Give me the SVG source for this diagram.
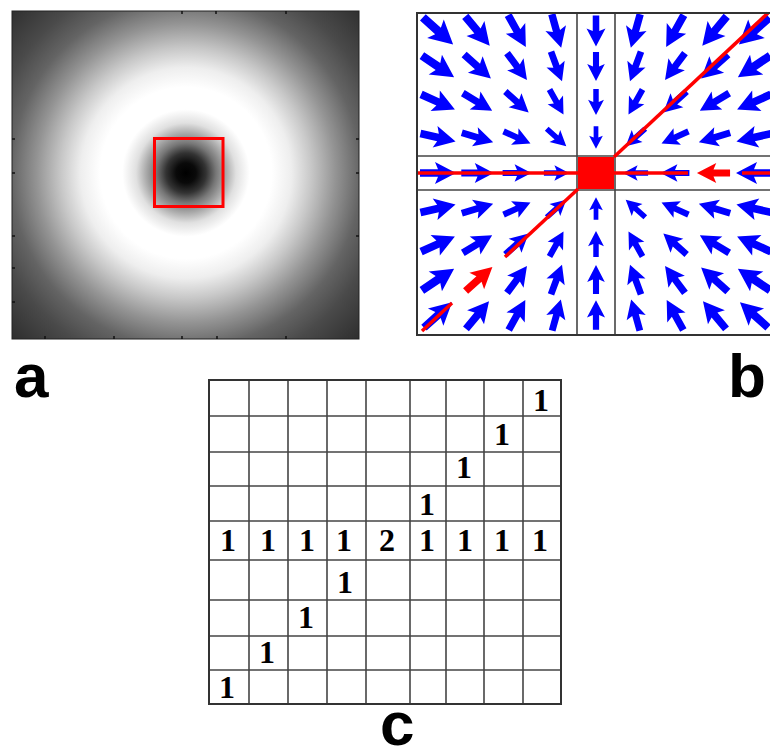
<svg xmlns="http://www.w3.org/2000/svg" xmlns:xlink="http://www.w3.org/1999/xlink" width="770" height="750" viewBox="0 0 770 750">
<defs>
<radialGradient id="glow" gradientUnits="userSpaceOnUse" cx="186" cy="173" r="245">
<stop offset="0" stop-color="#000"/>
<stop offset="0.041" stop-color="#0a0a0a"/>
<stop offset="0.082" stop-color="#333"/>
<stop offset="0.122" stop-color="#777"/>
<stop offset="0.163" stop-color="#aaa"/>
<stop offset="0.204" stop-color="#e0e0e0"/>
<stop offset="0.26" stop-color="#fff"/>
<stop offset="0.35" stop-color="#fff"/>
<stop offset="0.43" stop-color="#eee"/>
<stop offset="0.51" stop-color="#c8c8c8"/>
<stop offset="0.61" stop-color="#949494"/>
<stop offset="0.714" stop-color="#646464"/>
<stop offset="0.816" stop-color="#4a4a4a"/>
<stop offset="0.98" stop-color="#2e2e2e"/>
</radialGradient>
<path id="ar" d="M-18,-3.8 L0,-3.8 L-3,-11 L18,0 L-3,11 L0,3.8 L-18,3.8 Z"/>
</defs>
<style>
.lbl{font-family:"Liberation Sans",Arial,sans-serif;font-weight:bold;font-size:62px;fill:#000}
.num{font-family:"Liberation Serif","Times New Roman",serif;font-weight:bold;font-size:32px;fill:#000;text-anchor:middle}
.grid{stroke:#444;stroke-width:1.6;fill:none}
.tick{stroke:#111;stroke-width:1.5}
.red{stroke:#ff0000;stroke-width:3.5;fill:none}
</style>
<rect width="770" height="750" fill="#fff"/>

<g id="panel-a">
<rect x="12" y="11" width="347" height="328" fill="url(#glow)" stroke="#222" stroke-width="1"/>
<g class="tick">
<line x1="12" y1="139" x2="15" y2="139"/><line x1="12" y1="173" x2="15" y2="173"/><line x1="12" y1="236" x2="15" y2="236"/><line x1="12" y1="268" x2="15" y2="268"/><line x1="12" y1="302" x2="15" y2="302"/>
<line x1="359" y1="139" x2="356" y2="139"/><line x1="359" y1="173" x2="356" y2="173"/><line x1="359" y1="236" x2="356" y2="236"/>
<line x1="45" y1="339" x2="45" y2="336"/><line x1="114" y1="339" x2="114" y2="336"/><line x1="182" y1="339" x2="182" y2="336"/><line x1="217" y1="339" x2="217" y2="336"/><line x1="286" y1="339" x2="286" y2="336"/>
<line x1="182" y1="11" x2="182" y2="14"/><line x1="216" y1="11" x2="216" y2="14"/><line x1="286" y1="11" x2="286" y2="14"/>
</g>
<rect x="154.5" y="138.5" width="68.5" height="68" fill="none" stroke="#ff0000" stroke-width="3"/>
<text class="lbl" x="14" y="397">a</text>
</g>

<g id="panel-b">
<rect x="417" y="13" width="360" height="322" fill="#fff"/>
<g class="grid">
<line x1="577" y1="13" x2="577" y2="335"/>
<line x1="615" y1="13" x2="615" y2="335"/>
<line x1="417" y1="156" x2="770" y2="156"/>
<line x1="417" y1="190" x2="770" y2="190"/>
</g>
<g id="quiver" fill="#0000ff">
<use href="#ar" transform="translate(438,31) rotate(41.94) scale(1.13)"/>
<use href="#ar" transform="translate(477.5,31) rotate(50.15) scale(1.06)"/>
<use href="#ar" transform="translate(517,31) rotate(60.91) scale(1.01)"/>
<use href="#ar" transform="translate(556.5,31) rotate(74.47) scale(0.97)"/>
<use href="#ar" transform="translate(596,31) rotate(90) scale(0.86)"/>
<use href="#ar" transform="translate(635.5,31) rotate(105.53) scale(0.97)"/>
<use href="#ar" transform="translate(675,31) rotate(119.09) scale(1.01)"/>
<use href="#ar" transform="translate(714.5,31) rotate(129.85) scale(1.06)"/>
<use href="#ar" transform="translate(754,31) rotate(138.06) scale(1.13)"/>

<use href="#ar" transform="translate(438,66.5) rotate(33.98) scale(1.08)"/>
<use href="#ar" transform="translate(477.5,66.5) rotate(41.94) scale(1.0)"/>
<use href="#ar" transform="translate(517,66.5) rotate(53.43) scale(0.93)"/>
<use href="#ar" transform="translate(556.5,66.5) rotate(69.65) scale(0.88)"/>
<use href="#ar" transform="translate(596,66.5) rotate(90) scale(0.8)"/>
<use href="#ar" transform="translate(635.5,66.5) rotate(110.35) scale(0.88)"/>
<use href="#ar" transform="translate(675,66.5) rotate(126.57) scale(0.93)"/>
<use href="#ar" transform="translate(714.5,66.5) rotate(138.06) scale(1.0)"/>
<use href="#ar" transform="translate(754,66.5) rotate(146.02) scale(1.08)"/>

<use href="#ar" transform="translate(438,102) rotate(24.2) scale(1.03)"/>
<use href="#ar" transform="translate(477.5,102) rotate(30.93) scale(0.95)"/>
<use href="#ar" transform="translate(517,102) rotate(41.94) scale(0.87)"/>
<use href="#ar" transform="translate(556.5,102) rotate(60.91) scale(0.8)"/>
<use href="#ar" transform="translate(596,102) rotate(90) scale(0.72)"/>
<use href="#ar" transform="translate(635.5,102) rotate(119.09) scale(0.8)"/>
<use href="#ar" transform="translate(675,102) rotate(138.06) scale(0.87)"/>
<use href="#ar" transform="translate(714.5,102) rotate(149.07) scale(0.95)"/>
<use href="#ar" transform="translate(754,102) rotate(155.8) scale(1.03)"/>

<use href="#ar" transform="translate(438,137.5) rotate(12.66) scale(1.0)"/>
<use href="#ar" transform="translate(477.5,137.5) rotate(16.68) scale(0.91)"/>
<use href="#ar" transform="translate(517,137.5) rotate(24.2) scale(0.82)"/>
<use href="#ar" transform="translate(556.5,137.5) rotate(41.94) scale(0.73)"/>
<use href="#ar" transform="translate(596,137.5) rotate(90) scale(0.62)"/>
<use href="#ar" transform="translate(635.5,137.5) rotate(138.06) scale(0.73)"/>
<use href="#ar" transform="translate(675,137.5) rotate(155.8) scale(0.82)"/>
<use href="#ar" transform="translate(714.5,137.5) rotate(163.32) scale(0.91)"/>
<use href="#ar" transform="translate(754,137.5) rotate(167.34) scale(1.0)"/>

<use href="#ar" transform="translate(438,173) scale(1.0)"/>
<use href="#ar" transform="translate(477.5,173) scale(0.9)"/>
<use href="#ar" transform="translate(517,173) scale(0.8)"/>
<use href="#ar" transform="translate(556.5,173) scale(0.7)"/>
<use href="#ar" transform="translate(635.5,173) rotate(180) scale(0.7)"/>
<use href="#ar" transform="translate(675,173) rotate(180) scale(0.8)"/>
<use href="#ar" transform="translate(754,173) rotate(180) scale(1.0)"/>

<use href="#ar" transform="translate(438,208.5) rotate(-12.66) scale(1.0)"/>
<use href="#ar" transform="translate(477.5,208.5) rotate(-16.68) scale(0.91)"/>
<use href="#ar" transform="translate(517,208.5) rotate(-24.2) scale(0.82)"/>
<use href="#ar" transform="translate(556.5,208.5) rotate(-41.94) scale(0.73)"/>
<use href="#ar" transform="translate(596,208.5) rotate(-90) scale(0.62)"/>
<use href="#ar" transform="translate(635.5,208.5) rotate(-138.06) scale(0.73)"/>
<use href="#ar" transform="translate(675,208.5) rotate(-155.8) scale(0.82)"/>
<use href="#ar" transform="translate(714.5,208.5) rotate(-163.32) scale(0.91)"/>
<use href="#ar" transform="translate(754,208.5) rotate(-167.34) scale(1.0)"/>

<use href="#ar" transform="translate(438,244) rotate(-24.2) scale(1.03)"/>
<use href="#ar" transform="translate(477.5,244) rotate(-30.93) scale(0.95)"/>
<use href="#ar" transform="translate(517,244) rotate(-41.94) scale(0.87)"/>
<use href="#ar" transform="translate(556.5,244) rotate(-60.91) scale(0.8)"/>
<use href="#ar" transform="translate(596,244) rotate(-90) scale(0.72)"/>
<use href="#ar" transform="translate(635.5,244) rotate(-119.09) scale(0.8)"/>
<use href="#ar" transform="translate(675,244) rotate(-138.06) scale(0.87)"/>
<use href="#ar" transform="translate(714.5,244) rotate(-149.07) scale(0.95)"/>
<use href="#ar" transform="translate(754,244) rotate(-155.8) scale(1.03)"/>

<use href="#ar" transform="translate(438,279.5) rotate(-33.98) scale(1.08)"/>
<use href="#ar" transform="translate(517,279.5) rotate(-53.43) scale(0.93)"/>
<use href="#ar" transform="translate(556.5,279.5) rotate(-69.65) scale(0.88)"/>
<use href="#ar" transform="translate(596,279.5) rotate(-90) scale(0.8)"/>
<use href="#ar" transform="translate(635.5,279.5) rotate(-110.35) scale(0.88)"/>
<use href="#ar" transform="translate(675,279.5) rotate(-126.57) scale(0.93)"/>
<use href="#ar" transform="translate(714.5,279.5) rotate(-138.06) scale(1.0)"/>
<use href="#ar" transform="translate(754,279.5) rotate(-146.02) scale(1.08)"/>

<use href="#ar" transform="translate(438,315) rotate(-41.94) scale(1.05)"/>
<use href="#ar" transform="translate(477.5,315) rotate(-50.15) scale(1.0)"/>
<use href="#ar" transform="translate(517,315) rotate(-60.91) scale(0.95)"/>
<use href="#ar" transform="translate(556.5,315) rotate(-74.47) scale(0.9)"/>
<use href="#ar" transform="translate(596,315) rotate(-90) scale(0.82)"/>
<use href="#ar" transform="translate(635.5,315) rotate(-105.53) scale(0.9)"/>
<use href="#ar" transform="translate(675,315) rotate(-119.09) scale(0.95)"/>
<use href="#ar" transform="translate(714.5,315) rotate(-129.85) scale(1.0)"/>
<use href="#ar" transform="translate(754,315) rotate(-138.06) scale(1.05)"/>
</g>
<rect x="578" y="157" width="36" height="32" fill="#ff0000"/>
<g class="red">
<line x1="417" y1="173" x2="578" y2="173"/>
<line x1="614" y1="173" x2="688" y2="173"/>
<line x1="742" y1="173" x2="770" y2="173"/>
<line x1="614" y1="157" x2="768" y2="13"/>
<line x1="578" y1="189" x2="505" y2="257"/>
<line x1="452" y1="303" x2="422" y2="331"/>
</g>
<use href="#ar" fill="#ff0000" transform="translate(713.5,173) rotate(180) scale(0.92)"/>
<use href="#ar" fill="#ff0000" transform="translate(479,279) rotate(-41.94) scale(1.0)"/>
<g stroke="#333" stroke-width="2" fill="none">
<polyline points="770,13 417,13 417,335 770,335"/>
</g>
<text class="lbl" x="728" y="397">b</text>
</g>

<g id="panel-c">
<g class="grid">
<line x1="249" y1="380" x2="249" y2="704"/>
<line x1="288" y1="380" x2="288" y2="704"/>
<line x1="327" y1="380" x2="327" y2="704"/>
<line x1="366" y1="380" x2="366" y2="704"/>
<line x1="410" y1="380" x2="410" y2="704"/>
<line x1="446" y1="380" x2="446" y2="704"/>
<line x1="484" y1="380" x2="484" y2="704"/>
<line x1="523" y1="380" x2="523" y2="704"/>
<line x1="209" y1="416" x2="561" y2="416"/>
<line x1="209" y1="452" x2="561" y2="452"/>
<line x1="209" y1="486" x2="561" y2="486"/>
<line x1="209" y1="521" x2="561" y2="521"/>
<line x1="209" y1="560" x2="561" y2="560"/>
<line x1="209" y1="600" x2="561" y2="600"/>
<line x1="209" y1="636" x2="561" y2="636"/>
<line x1="209" y1="670" x2="561" y2="670"/>
<rect x="209" y="380" width="352" height="324" stroke="#333" stroke-width="2"/>
</g>
<text class="num" x="541" y="411">1</text>
<text class="num" x="502" y="445">1</text>
<text class="num" x="464" y="478">1</text>
<text class="num" x="427" y="515">1</text>
<text class="num" x="228" y="551">1</text>
<text class="num" x="268" y="551">1</text>
<text class="num" x="307" y="551">1</text>
<text class="num" x="344" y="551">1</text>
<text class="num" x="387" y="551">2</text>
<text class="num" x="427" y="551">1</text>
<text class="num" x="465" y="551">1</text>
<text class="num" x="502" y="551">1</text>
<text class="num" x="540" y="551">1</text>
<text class="num" x="345" y="593">1</text>
<text class="num" x="306" y="628">1</text>
<text class="num" x="267" y="663">1</text>
<text class="num" x="227" y="698">1</text>
<text class="lbl" x="380" y="745">c</text>
</g>
</svg>
